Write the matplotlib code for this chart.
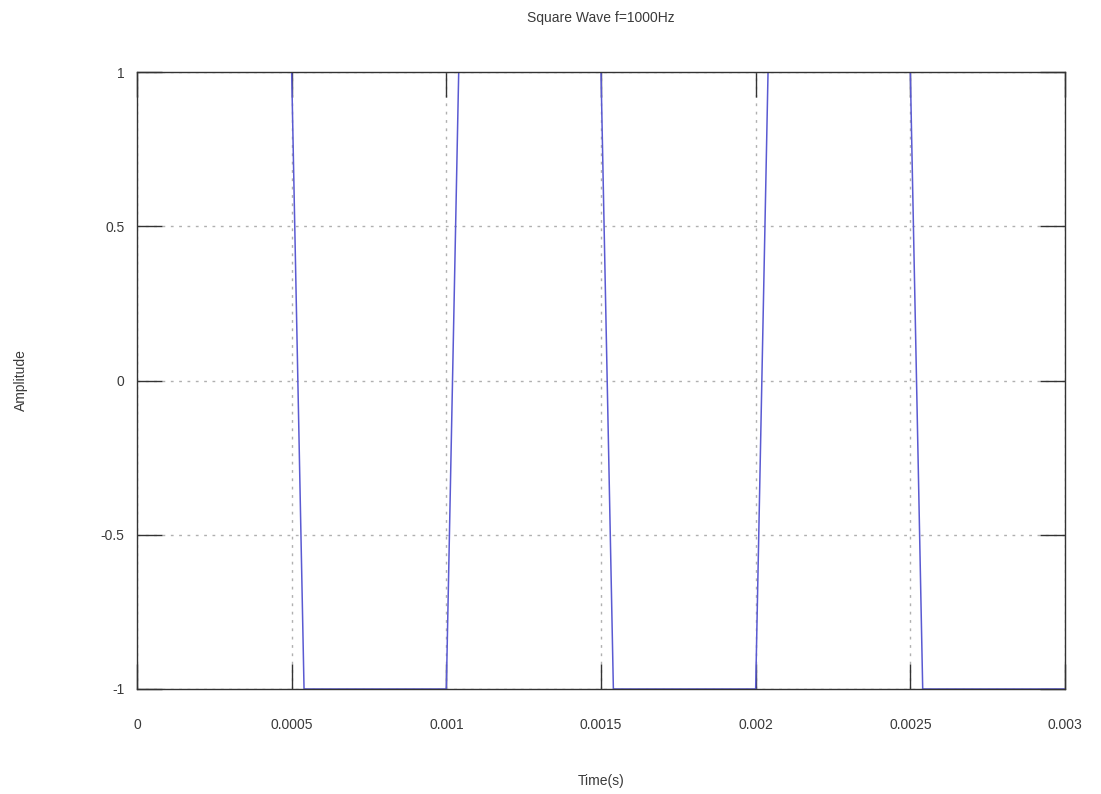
import matplotlib
matplotlib.use("Agg")
import matplotlib.pyplot as plt

# corner points of the sampled square wave (f = 1000 Hz)
time_s = [0, 0.0005, 0.00054, 0.001, 0.00104, 0.0015, 0.00154,
          0.002, 0.00204, 0.0025, 0.00254, 0.003]
amplitude = [1, 1, -1, -1, 1, 1, -1, -1, 1, 1, -1, -1]

x_ticks = [0, 0.0005, 0.001, 0.0015, 0.002, 0.0025, 0.003]
x_tick_labels = ["0", "0.0005", "0.001", "0.0015", "0.002", "0.0025", "0.003"]
y_ticks = [-1, -0.5, 0, 0.5, 1]
y_tick_labels = ["-1", "-0.5", "0", "0.5", "1"]

plt.rcParams['font.family'] = ['Liberation Sans', 'DejaVu Sans']
text_col = '#3a3a3a'

fig = plt.figure(figsize=(11.01, 7.94), dpi=100)
ax = fig.add_axes([137 / 1101, 1 - 689 / 794, 928 / 1101, 617 / 794])

ax.plot(time_s, amplitude, color='#5a5ad2', linewidth=1.1)

ax.set_xlim(0, 0.003)
ax.set_ylim(-1, 1)
ax.set_xticks(x_ticks)
ax.set_xticklabels(x_tick_labels)
ax.set_yticks(y_ticks)
ax.set_yticklabels(y_tick_labels)

ax.grid(True, color='#b0b0b0', linestyle=(0, (2, 4)), linewidth=1)
ax.tick_params(direction='in', length=18, width=1, color='#333333',
               top=True, right=True, labelsize=10, labelcolor=text_col)
ax.tick_params(axis='x', pad=21)
ax.tick_params(axis='y', pad=9)
for s in ax.spines.values():
    s.set_color('#333333')
    s.set_linewidth(1)

ax.set_title("Square Wave f=1000Hz", fontsize=10, color=text_col, pad=36)
ax.set_xlabel("Time(s)", fontsize=10, color=text_col, labelpad=30)
ax.set_ylabel("Amplitude", fontsize=10, color=text_col, labelpad=52)

fig.savefig("out.png", dpi=100)
